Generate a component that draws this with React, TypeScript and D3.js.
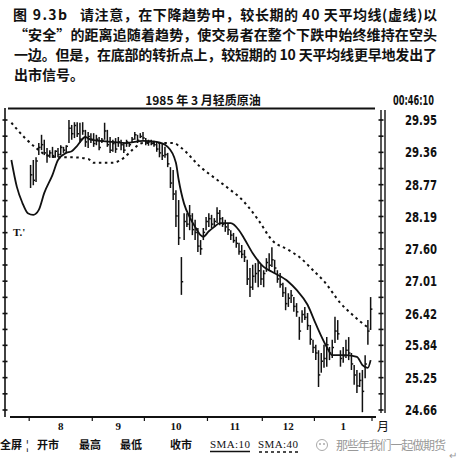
import React from 'react';
import * as d3 from 'd3';

// caption text, as printed above the chart
const figureNo = '图 9.3b';
const captionLines = [
  '请注意，在下降趋势中，较长期的 40 天平均线(虚线)以',
  '“安全”的距离追随着趋势，使交易者在整个下跌中始终维持在空头',
  '一边。但是，在底部的转折点上，较短期的 10 天平均线更早地发出了',
  '出市信号。',
];
const chartTitle = '1985 年 3 月轻质原油';
const clockText = '00:46:10';

// months on the x axis and their trading days (July is only partly shown)
const monthLabels = ['', '8', '9', '10', '11', '12', '1'];
const monthDays = [7, 23, 19, 23, 20, 19, 21];

// price labels on the right axis
const priceLabels = [29.95, 29.36, 28.77, 28.19, 27.6, 27.01, 26.42, 25.84, 25.25, 24.66];

// daily bars, first visible bar is trading day 7
const barStart = 7;
const highs = [
  29.13, 29.22, 29.27, 29.53, 29.68, 29.59, 29.44, 29.4, 29.46, 29.4, 29.44, 29.49, 29.46, 29.49,
  29.95, 29.86, 29.91, 29.91, 29.9, 29.91, 29.77, 29.73, 29.71, 29.71, 29.68, 29.64, 29.62, 29.9,
  29.77, 29.64, 29.59, 29.62, 29.64, 29.59, 29.53, 29.59, 29.55, 29.64, 29.73, 29.68, 29.71, 29.73,
  29.62, 29.59, 29.59, 29.57, 29.55, 29.53, 29.53, 29.46, 29.35, 29.09, 29.04, 28.67, 28.49, 27.45,
  28.25, 28.25, 28.4, 28.25, 28.13, 27.98, 27.76, 27.98, 28.18, 28.25, 28.22, 28.16, 28.36, 28.31,
  28.18, 28.13, 28.07, 27.94, 27.89, 27.82, 27.71, 27.67, 27.58, 27.4, 27.25, 27.31, 27.34, 27.4,
  27.31, 27.21, 27.43, 27.52, 27.63, 27.4, 27.21, 27.16, 26.98, 26.9, 26.79, 26.85, 26.72, 26.61,
  26.36, 26.48, 26.54, 26.43, 26.21, 25.94, 25.85, 25.75, 25.7, 25.85, 25.99, 25.81, 25.94, 26.36,
  26.3, 25.75, 25.81, 25.94, 25.99, 25.7, 25.48, 25.39, 25.34, 25.39, 25.66, 26.3, 26.72,
];
const lows = [
  28.71, 28.76, 28.82, 29.31, 29.4, 29.31, 29.17, 29.26, 29.26, 29.26, 29.27, 29.31, 29.35, 29.35,
  29.53, 29.59, 29.62, 29.64, 29.53, 29.68, 29.46, 29.44, 29.53, 29.46, 29.49, 29.4, 29.53, 29.59,
  29.46, 29.35, 29.37, 29.35, 29.46, 29.4, 29.35, 29.46, 29.46, 29.53, 29.59, 29.53, 29.62, 29.59,
  29.49, 29.48, 29.49, 29.46, 29.37, 29.27, 29.22, 29.26, 29.09, 28.71, 28.49, 28.0, 27.67, 26.76,
  27.76, 28.0, 27.94, 27.85, 27.76, 27.54, 27.49, 27.76, 27.94, 28.0, 27.98, 28.0, 28.07, 28.03,
  28.0, 27.91, 27.85, 27.76, 27.71, 27.62, 27.49, 27.43, 27.36, 26.94, 26.72, 26.85, 26.98, 26.9,
  26.94, 26.9, 27.18, 27.21, 27.27, 27.16, 26.98, 26.89, 26.72, 26.48, 26.54, 26.61, 26.45, 26.36,
  25.94, 26.25, 26.3, 26.12, 25.85, 25.7, 25.57, 25.08, 25.34, 25.43, 25.45, 25.57, 25.61, 25.88,
  25.94, 25.45, 25.52, 25.61, 25.57, 25.39, 25.12, 24.97, 25.08, 24.62, 25.24, 25.85, 26.12,
];
const closes = [
  28.95, 28.85, 29.2, 29.45, 29.5, 29.35, 29.3, 29.35, 29.3, 29.38, 29.32, 29.45, 29.4, 29.47,
  29.8, 29.7, 29.85, 29.7, 29.6, 29.75, 29.55, 29.65, 29.6, 29.52, 29.6, 29.45, 29.58, 29.75,
  29.5, 29.4, 29.52, 29.42, 29.55, 29.5, 29.4, 29.55, 29.5, 29.6, 29.68, 29.58, 29.65, 29.62,
  29.55, 29.55, 29.52, 29.5, 29.42, 29.35, 29.3, 29.32, 29.15, 28.8, 28.6, 28.2, 27.8, 27.0,
  28.1, 28.05, 28.2, 27.95, 27.9, 27.65, 27.6, 27.9, 28.1, 28.15, 28.05, 28.1, 28.25, 28.15,
  28.05, 28.0, 27.95, 27.85, 27.75, 27.7, 27.55, 27.5, 27.45, 27.05, 26.9, 27.1, 27.15, 27.2,
  27.05, 27.15, 27.35, 27.3, 27.4, 27.25, 27.05, 26.95, 26.8, 26.6, 26.7, 26.75, 26.55, 26.45,
  26.1, 26.4, 26.35, 26.2, 25.95, 25.8, 25.7, 25.3, 25.55, 25.6, 25.85, 25.7, 25.8, 26.1,
  26.05, 25.6, 25.65, 25.75, 25.7, 25.5, 25.3, 25.1, 25.2, 25.0, 25.5, 26.1, 26.5,
];

// 10-day moving average (solid), read at trading days
const sma10Days = [0, 2, 4, 6, 8, 10, 12, 15, 17, 20, 22, 24, 27, 29, 32, 37, 42, 48, 53, 57, 60, 61, 63, 65, 67, 69, 70, 72, 74, 76, 80, 83, 85, 88, 92, 95, 101, 104, 108, 111, 115, 117, 122, 126, 128, 130, 131];
const sma10Values = [29.22, 28.73, 28.44, 28.25, 28.22, 28.31, 28.62, 28.95, 29.22, 29.35, 29.38, 29.48, 29.64, 29.59, 29.57, 29.55, 29.53, 29.57, 29.55, 29.46, 29.17, 28.86, 28.42, 28.18, 28.0, 27.85, 27.82, 27.92, 28.0, 28.07, 28.07, 27.94, 27.78, 27.52, 27.27, 27.18, 27.0, 26.85, 26.58, 26.23, 25.81, 25.66, 25.66, 25.63, 25.48, 25.43, 25.57];

// 40-day moving average (dashed)
const sma40Days = [0, 5, 9, 12, 17, 22, 28, 30, 37, 41, 44, 48, 59, 62, 69, 75, 80, 83, 90, 95, 101, 105, 110, 114, 120, 125, 130, 131];
const sma40Values = [29.9, 29.62, 29.44, 29.33, 29.27, 29.27, 29.24, 29.17, 29.17, 29.26, 29.4, 29.53, 29.53, 29.44, 29.09, 28.86, 28.67, 28.55, 28.13, 27.76, 27.58, 27.45, 27.21, 27.01, 26.61, 26.37, 26.17, 26.14];

// bottom menu row
const menuFirst = '全屏';
const menuItems = ['开市', '最高', '最低', '收市'];
const legendLabels = ['SMA:10', 'SMA:40'];
const watermark = '那些年我们一起做期货';

const cjk = "'Noto Sans CJK SC', sans-serif";
const narrow = "'Liberation Sans Narrow', 'DejaVu Sans Condensed', 'Liberation Sans', sans-serif";
const serif = "'Liberation Serif', 'DejaVu Serif', serif";

const App = () => {
  const totalDays = d3.sum(monthDays);
  const x = d3.scaleLinear().domain([0, totalDays]).range([10, 372]);
  const y = d3.scaleLinear().domain([24.66, 29.95]).range([410, 120]);

  const ends = Array.from(d3.cumsum(monthDays));
  const starts = [0, ...ends.slice(0, -1)];

  const axisTicks = priceLabels.flatMap((p, k) =>
    k < priceLabels.length - 1 ? [p, (p + priceLabels[k + 1]) / 2] : [p]
  );

  const bars = highs.map((h, k) => ({
    day: barStart + k,
    high: h,
    low: lows[k],
    close: closes[k],
  }));

  const line = d3
    .line<[number, number]>()
    .x((d) => x(d[0] + 0.5))
    .y((d) => y(d[1]))
    .curve(d3.curveMonotoneX);

  const sma10 = sma10Days.map((d, k) => [d, sma10Values[k]] as [number, number]);
  const sma40 = sma40Days.map((d, k) => [d, sma40Values[k]] as [number, number]);

  const captionX = [80, 14, 14, 14];
  const captionLen = [357, 423, 423, null];
  const captionY = [20, 40, 60, 80];
  const menuX = [37, 79, 120, 170];

  return (
    <svg
      width={459}
      height={467}
      viewBox="0 0 459 467"
      style={{ position: 'absolute', left: 0, top: 0, background: '#fff' }}
    >
      <rect width={459} height={467} fill="#fff" />

      {/* caption */}
      <text
        x={13}
        y={captionY[0]}
        fontFamily={cjk}
        fontSize={14}
        fontWeight={700}
        fill="#111"
        textLength={54}
        lengthAdjust="spacing"
      >
        {figureNo}
      </text>
      {captionLines.map((t, k) => (
        <text
          key={k}
          x={captionX[k]}
          y={captionY[k]}
          fontFamily={cjk}
          fontSize={14}
          fontWeight={700}
          fill="#111"
          textLength={captionLen[k] ?? undefined}
          lengthAdjust="spacing"
        >
          {t}
        </text>
      ))}

      {/* title + clock */}
      <text x={203} y={105} textAnchor="middle" fontFamily={cjk} fontSize={12} fontWeight={700} fill="#111">
        {chartTitle}
      </text>
      <text
        x={393}
        y={105}
        fontFamily={narrow}
        fontSize={14}
        fontWeight={700}
        fill="#111"
        textLength={41}
        lengthAdjust="spacingAndGlyphs"
      >
        {clockText}
      </text>

      {/* frame */}
      <line x1={8} x2={375} y1={108.5} y2={108.5} stroke="#111" strokeWidth={2} />
      <line x1={10} x2={376} y1={417} y2={417} stroke="#111" strokeWidth={2} />
      <line x1={5} x2={5} y1={108} y2={417} stroke="#111" strokeWidth={1.6} />
      <line x1={381} x2={381} y1={110} y2={413} stroke="#111" strokeWidth={1.4} />
      <line x1={385} x2={385} y1={110} y2={413} stroke="#111" strokeWidth={1.4} />
      {axisTicks.map((p, k) => (
        <g key={k}>
          <line x1={2.5} x2={7.5} y1={y(p)} y2={y(p)} stroke="#111" strokeWidth={1.6} />
          <line x1={378.5} x2={383.5} y1={y(p)} y2={y(p)} stroke="#111" strokeWidth={1.6} />
        </g>
      ))}
      {priceLabels.map((p) => (
        <text
          key={p}
          x={405}
          y={y(p)}
          dy="0.36em"
          fontFamily={narrow}
          fontSize={14}
          fontWeight={700}
          fill="#111"
          textLength={32}
          lengthAdjust="spacingAndGlyphs"
        >
          {p.toFixed(2)}
        </text>
      ))}

      {/* month axis */}
      {ends.map((e) => (
        <line key={e} x1={x(e)} x2={x(e)} y1={417} y2={421} stroke="#111" strokeWidth={1.2} />
      ))}
      {monthLabels.map((m, k) =>
        m ? (
          <text
            key={k}
            x={(x(starts[k]) + x(ends[k])) / 2}
            y={430}
            textAnchor="middle"
            fontFamily={serif}
            fontSize={11}
            fontWeight={700}
            fill="#111"
          >
            {m}
          </text>
        ) : null
      )}
      <text x={383} y={431} textAnchor="middle" fontFamily={cjk} fontSize={12} fill="#111">
        月
      </text>

      {/* price bars */}
      <g stroke="#111" strokeWidth={1.5}>
        {bars.map((b) => {
          const cx = x(b.day + 0.5);
          return (
            <g key={b.day}>
              <line x1={cx} x2={cx} y1={y(b.high)} y2={y(b.low)} />
              <line x1={cx} x2={cx + 1.8} y1={y(b.close)} y2={y(b.close)} />
            </g>
          );
        })}
      </g>

      {/* moving averages */}
      <path d={line(sma40) ?? ''} fill="none" stroke="#111" strokeWidth={2} strokeDasharray="2.5,3.5" />
      <path d={line(sma10) ?? ''} fill="none" stroke="#111" strokeWidth={1.8} />

      <text x={13} y={236} fontFamily={serif} fontSize={11} fontWeight={700} fill="#111">
        T.'
      </text>

      {/* bottom menu */}
      <text x={0} y={449} fontFamily={cjk} fontSize={11} fontWeight={700} fill="#111">
        {menuFirst}
      </text>
      <text x={26} y={449} fontFamily={serif} fontSize={12} fontWeight={700} fill="#111">
        ¦
      </text>
      {menuItems.map((t, k) => (
        <text key={t} x={menuX[k]} y={449} fontFamily={cjk} fontSize={11} fontWeight={700} fill="#111">
          {t}
        </text>
      ))}
      {legendLabels.map((t, k) => (
        <text
          key={t}
          x={210 + k * 48}
          y={448}
          fontFamily={serif}
          fontSize={11}
          fill="#111"
          textLength={40}
          lengthAdjust="spacing"
        >
          {t}
        </text>
      ))}
      <line x1={210} x2={250} y1={451.5} y2={451.5} stroke="#111" strokeWidth={1.6} />
      <line x1={259} x2={300} y1={452} y2={452} stroke="#111" strokeWidth={1.3} strokeDasharray="3,3" />

      {/* watermark */}
      <circle cx={322} cy={445} r={5.5} fill="none" stroke="#aaa" strokeWidth={1} />
      <circle cx={320} cy={444} r={1} fill="#aaa" />
      <circle cx={324} cy={444} r={1} fill="#aaa" />
      <text
        x={336}
        y={450}
        fontFamily={cjk}
        fontSize={12}
        fill="#999"
        textLength={110}
        lengthAdjust="spacing"
      >
        {watermark}
      </text>
      <text x={449} y={459} fontFamily={cjk} fontSize={10} fill="#999">
        ↵
      </text>
    </svg>
  );
};

export default App;
